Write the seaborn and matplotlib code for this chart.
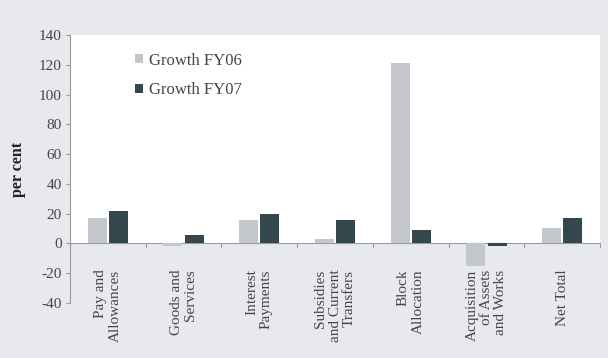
import matplotlib
matplotlib.use("Agg")
import matplotlib.pyplot as plt
import seaborn as sns
import pandas as pd
import numpy as np

categories = [
    "Pay and\nAllowances",
    "Goods and\nServices",
    "Interest\nPayments",
    "Subsidies\nand Current\nTransfers",
    "Block\nAllocation",
    "Acquisition\nof Assets\nand Works",
    "Net Total",
]
growth_fy06 = [17, -2, 16, 3, 121, -15, 10]
growth_fy07 = [22, 5.5, 20, 16, 9, -2, 17]
series_names = ["Growth FY06", "Growth FY07"]
y_ticks = [-40, -20, 0, 20, 40, 60, 80, 100, 120, 140]

df = pd.DataFrame({
    "category": categories * 2,
    "series": [series_names[0]] * len(categories) + [series_names[1]] * len(categories),
    "value": growth_fy06 + growth_fy07,
})

sns.set_theme(style="white")
plt.rcParams["font.family"] = ["Liberation Serif", "DejaVu Serif"]

bg = "#e8e9ed"
text_col = "#454545"
axis_col = "#9a9a9a"

fig = plt.figure(figsize=(6.08, 3.58), dpi=100, facecolor=bg)
ax = fig.add_axes([0.115, 0.154, 0.872, 0.748])
ax.set_facecolor(bg)

sns.barplot(
    data=df, x="category", y="value", hue="series",
    palette=["#c3c7cb", "#34474c"], width=0.56, gap=0.1,
    saturation=1, ax=ax, legend=True, zorder=3, linewidth=0,
)

ax.set_ylim(y_ticks[0], y_ticks[-1])
ax.set_xlim(-0.5, len(categories) - 0.5)
# white plotting field above the zero line
ax.axhspan(0, y_ticks[-1], color="white", zorder=0, lw=0)
ax.axhline(0, color=axis_col, lw=0.8, zorder=2)
# category divider ticks hanging from the zero line
for b in np.arange(len(categories) + 1) - 0.5:
    ax.plot([b, b], [0, -2.5], color=axis_col, lw=0.8, zorder=2, clip_on=False)

ax.set_yticks(y_ticks)
ax.set_yticklabels([str(v) for v in y_ticks], fontsize=11, color=text_col)
ax.tick_params(axis="y", length=3, width=0.8, color=axis_col, pad=3, left=True)

ax.set_xticks(range(len(categories)))
ax.set_xticklabels(categories, rotation=90, fontsize=11, color=text_col,
                   va="top", ha="center", multialignment="right",
                   linespacing=1.15)
ax.tick_params(axis="x", length=0, pad=-24)

ax.set_xlabel("")
ax.set_ylabel("per cent", fontsize=11.5, fontweight="bold", color="#222222", labelpad=9)

for side in ["top", "right", "bottom"]:
    ax.spines[side].set_visible(False)
ax.spines["left"].set_color(axis_col)
ax.spines["left"].set_linewidth(0.8)

leg = ax.legend(loc="upper left", bbox_to_anchor=(0.095, 0.99), frameon=False,
                fontsize=12, handlelength=0.45, handleheight=0.45,
                handletextpad=0.35, labelspacing=0.8)
for t in leg.get_texts():
    t.set_color(text_col)

fig.savefig("out.png", dpi=100, facecolor=bg)
